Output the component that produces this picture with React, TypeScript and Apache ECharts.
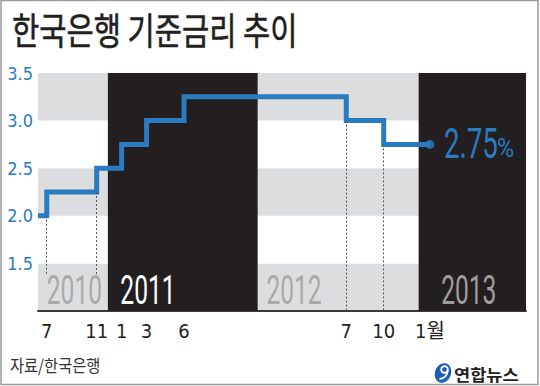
import React, { useEffect, useRef } from 'react';
import * as echarts from 'echarts';

// months counted from January 2010 (0 = Jan 2010)
const rateMonths = [5.3, 6, 10, 12, 14, 17, 30, 33, 36.7];
const baseRates = [2.0, 2.25, 2.5, 2.75, 3.0, 3.25, 3.0, 2.75, 2.75];

const tickMonths = [6, 10, 12, 14, 17, 30, 33, 36.7];
const tickLabels = ['7', '11', '1', '3', '6', '7', '10', '1월'];

const yearNames = ['2010', '2011', '2012', '2013'];
const yearFrom = [5.3, 10.9, 22.9, 35.8];
const yearTo = [10.9, 22.9, 35.8, 44.4];
const yearShaded = [0, 1, 0, 1];
const yearLabelMonth = [6.0, 11.9, 23.6, 37.6];

const guideMonth = [6, 10, 30, 33];
const guideTop = [2.0, 2.25, 3.0, 2.75];
const guideBottom = [1.38, 1.38, 1.0, 1.0];

const X_MIN = 5.3;
const X_MAX = 44.4;
const Y_MIN = 1.0;
const Y_MAX = 3.5;
const Y_STEP = 0.5;

const BLUE = '#2b7bc1';
const DARK = '#231f20';
const LIGHT = '#dcdddf';
const NARROW = "'Liberation Sans Narrow', 'DejaVu Sans Condensed', 'Roboto Condensed', Roboto, 'Noto Sans CJK KR', sans-serif";
const KR = "'Noto Sans CJK KR', 'Noto Sans', sans-serif";

const yearColors = ['#a9a9a9', '#ffffff', '#a9a9a9', '#9d9d9d'];

export default function App() {
  const ref = useRef<HTMLDivElement>(null);

  useEffect(() => {
    if (!ref.current) return;
    const chart = echarts.init(ref.current, undefined, { renderer: 'svg' });

    const lineData = rateMonths.map((m, i) => [m, baseRates[i]]);
    const last = lineData[lineData.length - 1];
    const bandData = yearNames.map((_, i) => [yearFrom[i], yearTo[i], yearShaded[i], yearLabelMonth[i]]);
    const guides = guideMonth.map((m, i) => [
      { coord: [m, guideTop[i]] },
      { coord: [m, guideBottom[i]] },
    ]);

    const option: any = {
      animation: false,
      backgroundColor: '#ffffff',
      grid: { left: 38, right: 14, top: 73, bottom: 75, containLabel: false },
      xAxis: {
        type: 'value',
        min: X_MIN,
        max: X_MAX,
        axisLine: { show: true, onZero: false, lineStyle: { color: '#3a3a3a', width: 2 } },
        axisTick: { show: false },
        splitLine: { show: false },
        axisLabel: {
          customValues: tickMonths,
          hideOverlap: false,
          formatter: (v: number) => {
            const i = tickMonths.findIndex((m) => Math.abs(m - v) < 1e-6);
            return i >= 0 ? tickLabels[i] : '';
          },
          color: DARK,
          fontSize: 20,
          fontFamily: NARROW,
          margin: 10,
        },
      },
      yAxis: {
        type: 'value',
        min: Y_MIN,
        max: Y_MAX,
        interval: Y_STEP,
        axisLine: { show: false },
        axisTick: { show: false },
        splitLine: { show: false },
        splitArea: { show: true, areaStyle: { color: [LIGHT, '#ffffff'] } },
        axisLabel: {
          showMinLabel: false,
          formatter: (v: number) => v.toFixed(1),
          color: BLUE,
          fontSize: 18,
          fontFamily: NARROW,
          margin: 5,
          padding: [0, 0, 5, 0],
        },
      },
      series: [
        {
          type: 'custom',
          silent: true,
          z: 1,
          clip: false,
          data: bandData,
          renderItem: (params: any, api: any) => {
            const i = params.dataIndex;
            const p0 = api.coord([api.value(0), Y_MAX]);
            const p1 = api.coord([api.value(1), Y_MIN]);
            const lx = api.coord([api.value(3), Y_MIN])[0];
            const children: any[] = [];
            if (api.value(2) === 1) {
              children.push({
                type: 'rect',
                shape: { x: p0[0], y: p0[1], width: p1[0] - p0[0], height: p1[1] - p0[1] },
                style: { fill: DARK },
              });
            }
            children.push({
              type: 'text',
              x: lx,
              y: p1[1] - 21,
              scaleX: 0.6,
              style: {
                text: yearNames[i],
                fill: yearColors[i],
                fontSize: 41,
                fontFamily: 'Roboto',
                align: 'left',
                verticalAlign: 'middle',
              },
            });
            return { type: 'group', children };
          },
        },
        {
          type: 'line',
          step: 'end',
          data: lineData,
          symbol: 'none',
          z: 3,
          lineStyle: { color: BLUE, width: 5, join: 'miter', cap: 'butt' },
          markLine: {
            silent: true,
            symbol: ['none', 'none'],
            label: { show: false },
            lineStyle: { color: '#555555', width: 1, type: [2, 2] },
            data: guides,
          },
        },
        {
          type: 'scatter',
          data: [last],
          symbol: 'circle',
          symbolSize: 9,
          z: 4,
          itemStyle: { color: BLUE },
        },
        {
          type: 'custom',
          silent: true,
          z: 4,
          clip: false,
          data: [last],
          renderItem: (_params: any, api: any) => {
            const p = api.coord([api.value(0), api.value(1)]);
            return {
              type: 'group',
              children: [
                {
                  type: 'text',
                  x: p[0] + 14,
                  y: p[1] - 1,
                  scaleX: 0.66,
                  style: {
                    text: api.value(1).toFixed(2),
                    fill: BLUE,
                    fontSize: 42,
                    fontFamily: 'Roboto',
                    align: 'left',
                    verticalAlign: 'middle',
                  },
                },
                {
                  type: 'text',
                  x: p[0] + 67,
                  y: p[1] + 4,
                  scaleX: 0.9,
                  style: {
                    text: '%',
                    fill: BLUE,
                    fontSize: 26,
                    fontFamily: 'Roboto',
                    align: 'left',
                    verticalAlign: 'middle',
                  },
                },
              ],
            };
          },
        },
      ],
      graphic: [
        {
          type: 'rect',
          silent: true,
          shape: { x: 1, y: 0.5, width: 537, height: 384 },
          style: { fill: 'none', stroke: '#9a9a9a', lineWidth: 1.5 },
        },
        {
          type: 'text',
          x: 12,
          y: 29,
          scaleX: 0.8,
          style: {
            text: '한국은행 기준금리 추이',
            fill: DARK,
            fontSize: 37,
            fontFamily: KR,
            align: 'left',
            verticalAlign: 'middle',
            stroke: DARK,
            lineWidth: 0.6,
          },
        },
        {
          type: 'text',
          x: 10,
          y: 365,
          scaleX: 0.9,
          style: {
            text: '자료/한국은행',
            fill: '#333333',
            fontSize: 17,
            fontFamily: KR,
            align: 'left',
            verticalAlign: 'middle',
          },
        },
        {
          type: 'ellipse',
          silent: true,
          x: 443,
          y: 373,
          rotation: -0.35,
          shape: { cx: 0, cy: 0, rx: 8, ry: 10 },
          style: { fill: '#1d5fb0' },
        },
        {
          type: 'arc',
          silent: true,
          shape: { cx: 444.5, cy: 369.5, r: 3.3, startAngle: 0, endAngle: Math.PI * 2 },
          style: { stroke: '#ffffff', lineWidth: 1.8, fill: 'none' },
        },
        {
          type: 'bezierCurve',
          silent: true,
          shape: { x1: 447.8, y1: 369.5, cpx1: 447.5, cpy1: 378, x2: 439.5, y2: 379 },
          style: { stroke: '#ffffff', lineWidth: 1.8, fill: 'none' },
        },
        {
          type: 'text',
          x: 454,
          y: 374,
          scaleX: 1.1,
          style: {
            text: '연합뉴스',
            fill: '#222222',
            fontSize: 16,
            fontWeight: 'bold',
            fontFamily: KR,
            align: 'left',
            verticalAlign: 'middle',
          },
        },
      ],
    };

    chart.setOption(option);
    return () => chart.dispose();
  }, []);

  return (
    <div
      ref={ref}
      style={{ position: 'absolute', left: 0, top: 0, width: 540, height: 386 }}
    />
  );
}
